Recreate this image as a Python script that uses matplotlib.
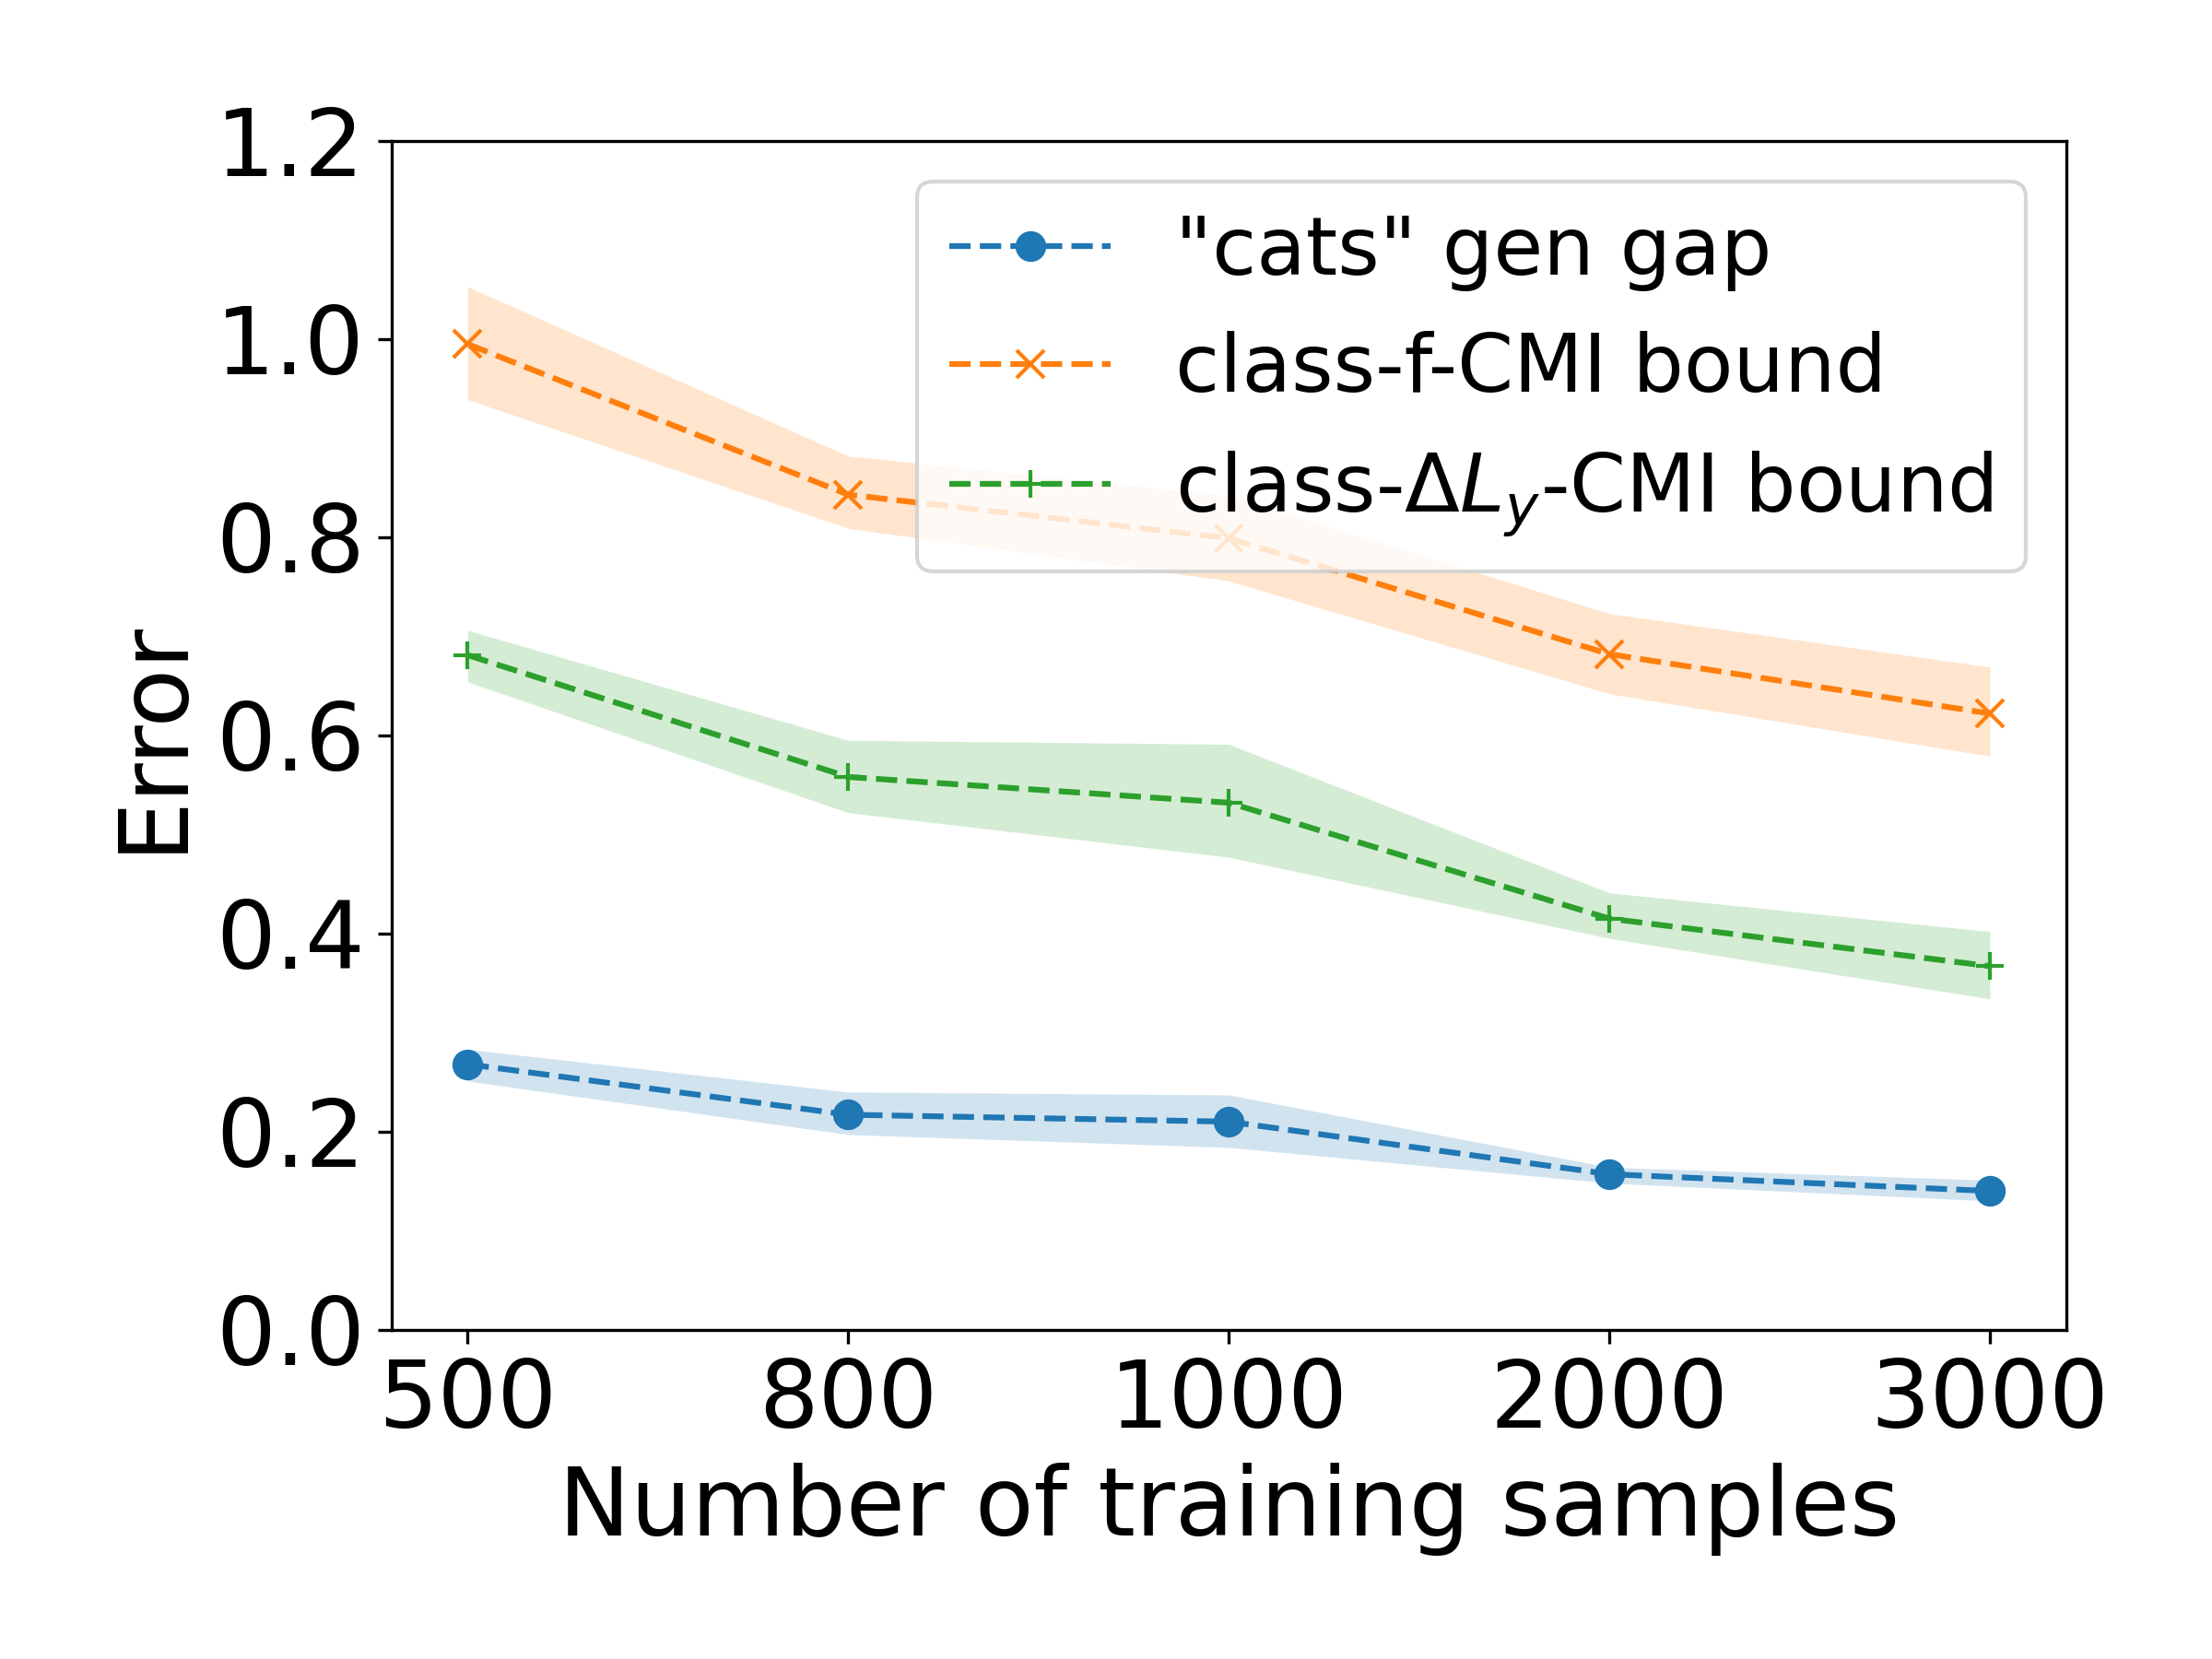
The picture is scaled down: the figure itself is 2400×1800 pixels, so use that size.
import matplotlib
matplotlib.use("Agg")
import matplotlib.pyplot as plt

# Data
n_samples = ["500", "800", "1000", "2000", "3000"]

gen_gap = [0.268, 0.217, 0.210, 0.157, 0.140]
gen_gap_lo = [0.251, 0.197, 0.184, 0.148, 0.130]
gen_gap_hi = [0.283, 0.240, 0.237, 0.164, 0.151]

fcmi = [0.995, 0.843, 0.799, 0.682, 0.622]
fcmi_lo = [0.939, 0.809, 0.756, 0.642, 0.579]
fcmi_hi = [1.053, 0.882, 0.842, 0.723, 0.669]

dly = [0.681, 0.558, 0.532, 0.415, 0.367]
dly_lo = [0.654, 0.522, 0.477, 0.395, 0.334]
dly_hi = [0.706, 0.595, 0.591, 0.441, 0.402]

plt.rcParams['font.size'] = 25

fig, ax = plt.subplots(figsize=(8, 6))
fig.subplots_adjust(left=0.177, right=0.934, bottom=0.1985, top=0.915)

x = list(range(len(n_samples)))

ax.plot(x, gen_gap, 'o--', color='C0', markersize=7, label='"cats" gen gap')
ax.fill_between(x, gen_gap_lo, gen_gap_hi, color='C0', alpha=0.2, linewidth=0)

ax.plot(x, fcmi, 'x--', color='C1', markersize=7, label='class-f-CMI bound')
ax.fill_between(x, fcmi_lo, fcmi_hi, color='C1', alpha=0.2, linewidth=0)

ax.plot(x, dly, '+--', color='C2', markersize=7, label=r'class-$\Delta L_y$-CMI bound')
ax.fill_between(x, dly_lo, dly_hi, color='C2', alpha=0.2, linewidth=0)

ax.set_xticks(x)
ax.set_xticklabels(n_samples)
ax.tick_params(labelsize=24.4)
ax.set_ylim(0, 1.2)
ax.set_xlabel('Number of training samples')
ax.set_ylabel('Error')
ax.legend(loc='upper right', fontsize=21)

fig.savefig('out.png', dpi=300, facecolor='white')
